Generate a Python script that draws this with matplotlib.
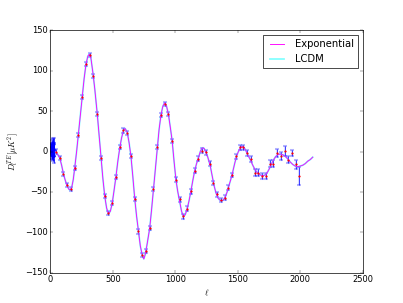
import numpy as np
import matplotlib
matplotlib.use('Agg')
import matplotlib.pyplot as plt

plt.style.use('classic')

# low-l points (l = 2..29)
low_ell = [2, 3, 4, 5, 6, 7, 8, 9, 10, 11, 12, 13, 14, 15,
           16, 17, 18, 19, 20, 21, 22, 23, 24, 25, 26, 27, 28, 29]
low_D = [3, 2, 6, 1, -2, 4, 5, 0, 2, -4, 6, 3, -1, 8,
         2, -3, 5, 1, 10, -5, 4, 0, 7, -2, 3, 9, -6, 2]
low_err = [2, 3, 3, 4, 4, 4, 5, 5, 5, 5, 5, 6, 6, 6,
           6, 6, 7, 7, 7, 7, 7, 7, 8, 8, 8, 8, 8, 8]

# binned high-l points
hi_ell = [44.5, 74.5, 104.5, 134.5, 164.5, 194.5, 224.5, 254.5, 284.5, 314.5,
          344.5, 374.5, 404.5, 434.5, 464.5, 494.5, 524.5, 554.5, 584.5, 614.5,
          644.5, 674.5, 704.5, 734.5, 764.5, 794.5, 824.5, 854.5, 884.5, 914.5,
          944.5, 974.5, 1004.5, 1034.5, 1064.5, 1094.5, 1124.5, 1154.5, 1184.5, 1214.5,
          1244.5, 1274.5, 1304.5, 1334.5, 1364.5, 1394.5, 1424.5, 1454.5, 1484.5, 1514.5,
          1544.5, 1574.5, 1604.5, 1634.5, 1664.5, 1694.5, 1724.5, 1754.5, 1784.5, 1814.5,
          1844.5, 1874.5, 1904.5, 1934.5, 1964.5, 1988]
hi_D = [0, -8, -28, -42, -47, -20, 21, 68, 108, 119,
        94, 47, -8, -55, -76, -64, -32, 5, 26, 23,
        -5, -59, -99, -128, -123, -95, -47, 5, 45, 59,
        46, 13, -35, -59, -80, -71, -49, -24, -9, 1,
        -1, -15, -39, -53, -60, -57, -45, -29, -6, 5,
        5, -2, -9, -26, -26, -30, -30, -15, -15, -2,
        -6, 1, -10, -2, -16, -30]
hi_err = [3, 2.5, 2.5, 2.5, 2.5, 2.5, 2.5, 2.5, 2.5, 2.5,
          2.5, 2.5, 2.5, 2.5, 2.5, 2.5, 2.5, 2.5, 2.5, 2.5,
          2.5, 2.5, 2.5, 2.5, 2.5, 2.5, 2.5, 2.5, 2.5, 2.5,
          2.5, 3, 3, 3, 3, 3, 3, 3, 3, 3,
          3, 3, 3, 3, 3, 3, 3, 3, 3, 3.5,
          3.5, 3.5, 3.5, 4, 4, 4, 4, 4.5, 4.5, 5,
          5, 6, 4.5, 4, 6, 11]

# model curve
model_ell = [2, 10, 20, 30, 44, 60, 75, 90, 105, 120, 135, 150, 160, 170, 183, 195,
             210, 225, 240, 255, 270, 285, 300, 312, 325, 340, 355, 375, 390, 405,
             420, 435, 450, 465, 480, 495, 510, 525, 540, 555, 570, 585, 598, 615,
             630, 645, 660, 675, 690, 705, 720, 735, 748, 760, 775, 795, 810, 825,
             840, 855, 870, 885, 900, 915, 930, 945, 960, 975, 990, 1005, 1020, 1035,
             1050, 1065, 1080, 1095, 1110, 1125, 1140, 1155, 1170, 1185, 1200, 1215,
             1230, 1245, 1260, 1280, 1295, 1310, 1325, 1340, 1355, 1370, 1385, 1400,
             1415, 1430, 1445, 1460, 1475, 1490, 1505, 1520, 1535, 1550, 1565, 1580,
             1600, 1620, 1640, 1660, 1680, 1700, 1720, 1740, 1760, 1780, 1800, 1820,
             1840, 1860, 1880, 1900, 1920, 1940, 1960, 1980, 2000, 2020, 2040, 2060,
             2080, 2100]
model_D = [3, 1, 1, 0.5, -1, -4, -8, -17, -28, -36, -43, -47, -47.5, -45, -35, -20,
           0, 22, 45, 68, 90, 108, 118, 120.5, 115, 98, 78, 47, 20, -7,
           -33, -55, -70, -77, -74, -64, -48, -31, -12, 4, 17, 26, 28.5, 24,
           11, -6, -31, -58, -80, -99, -117, -128, -133, -127, -114, -95, -72, -47,
           -21, 4, 27, 45, 56, 60.5, 56, 46, 30, 13, -12, -35, -50, -62,
           -74, -80.5, -78, -71, -61, -49, -36, -24, -15, -8, 0, 4.5,
           4, -1, -7, -18, -30, -42, -51, -57, -60, -61, -60, -56,
           -50, -42, -34, -25, -15, -6, 0, 4, 6.5, 5, 1, -4,
           -10, -17, -23, -27, -29, -30, -29, -25, -19, -12, -7, -4,
           -3, -4, -6, -9, -13, -16, -18, -19, -18, -17, -15, -12,
           -10, -7]

fig = plt.figure(figsize=(8.06, 6.06), dpi=50, facecolor='white')
ax = fig.add_subplot(111)

# soft halo under the error bars
for x, y, e in [(low_ell, low_D, low_err), (hi_ell, hi_D, hi_err)]:
    ax.errorbar(x, y, yerr=e, fmt='none', ecolor='b', alpha=0.15,
                elinewidth=3, capsize=3, capthick=3)

ax.errorbar(low_ell, low_D, yerr=low_err, fmt='b.', ecolor='b', markersize=5,
            elinewidth=1, capsize=2.5)
ax.errorbar(hi_ell, hi_D, yerr=hi_err, fmt='r.', ecolor='b', markersize=5,
            markeredgecolor='r', elinewidth=1, capsize=2.5)

l2, = ax.plot(model_ell, model_D, color='cyan', alpha=0.5, linewidth=2.5, label='LCDM')
l1, = ax.plot(model_ell, model_D, color='magenta', linewidth=1.3, label='Exponential')

ax.set_xlim(0, 2500)
ax.set_ylim(-150, 150)
ax.set_xticks([0, 500, 1000, 1500, 2000, 2500])
ax.set_yticks([-150, -100, -50, 0, 50, 100, 150])
ax.set_xlabel(r'$\ell$')
ax.set_ylabel(r'$D_l^{TE} [\mu K^2]$')
ax.legend(handles=[l1, l2], loc='upper right')

fig.savefig('out.png', dpi=50, facecolor='white')
